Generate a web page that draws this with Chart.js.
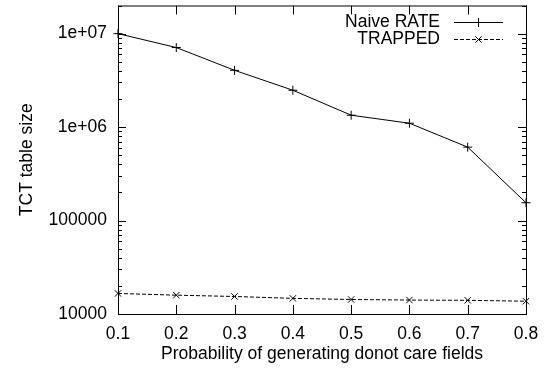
<!DOCTYPE html>
<html>
<head>
<meta charset="utf-8">
<script src="https://cdn.jsdelivr.net/npm/chart.js@4/dist/chart.umd.min.js"></script>
<style>
  html, body { margin: 0; padding: 0; background: #fff; }
  #wrap { width: 544px; height: 372px; }
</style>
</head>
<body>
<div id="wrap"><canvas id="myChart" width="544" height="372"></canvas></div>
<script>
const probabilities = ['0.1', '0.2', '0.3', '0.4', '0.5', '0.6', '0.7', '0.8'];
const naiveRate = [10000000, 7100000, 4050000, 2480000, 1340000, 1100000, 610000, 155000];
const trapped = [16600, 15900, 15400, 14700, 14300, 14100, 14000, 13700];
const yTickValues = [10000, 100000, 1000000, 10000000];
const yTickLabels = ['10000', '100000', '1e+06', '1e+07'];

const fontFamily = 'Liberation Sans, Arial, sans-serif';
const fontSize = 17.5;

// gnuplot style frame: box, inward ticks on all four sides, key at top right
const framePlugin = {
    id: 'frame',
    afterDraw(chart) {
        const ctx = chart.ctx;
        const area = chart.chartArea;
        const x = chart.scales.x;
        const y = chart.scales.y;
        ctx.save();
        ctx.strokeStyle = '#000';
        ctx.lineWidth = 1;
        ctx.strokeRect(area.left + 0.5, area.top + 0.5, area.right - area.left, area.bottom - area.top);

        ctx.beginPath();
        probabilities.forEach((p, i) => {
            const px = Math.round(x.getPixelForValue(i)) + 0.5;
            ctx.moveTo(px, area.bottom);
            ctx.lineTo(px, area.bottom - 9);
            ctx.moveTo(px, area.top);
            ctx.lineTo(px, area.top + 9);
        });
        for (let dec = 10000; dec <= y.max; dec *= 10) {
            for (let m = 1; m <= 9; m++) {
                const v = dec * m;
                if (v < y.min || v > y.max) continue;
                const len = m === 1 ? 8 : 4;
                const py = Math.round(y.getPixelForValue(v)) + 0.5;
                ctx.moveTo(area.left, py);
                ctx.lineTo(area.left + len, py);
                ctx.moveTo(area.right, py);
                ctx.lineTo(area.right - len, py);
            }
        }
        ctx.stroke();

        // key
        ctx.font = fontSize + 'px ' + fontFamily;
        ctx.textAlign = 'right';
        ctx.textBaseline = 'middle';
        ctx.fillStyle = '#000';
        chart.data.datasets.forEach((ds, i) => {
            const rowY = 22 + i * 17;
            ctx.fillText(ds.label, 440, rowY);
            ctx.beginPath();
            ctx.setLineDash(ds.borderDash || []);
            ctx.moveTo(454, rowY + 0.5);
            ctx.lineTo(503, rowY + 0.5);
            ctx.stroke();
            ctx.setLineDash([]);
            Chart.helpers.drawPoint(ctx, {
                pointStyle: ds.pointStyle,
                radius: ds.pointRadius,
                rotation: 0,
                borderWidth: 1
            }, 478.5, rowY + 0.5);
        });
        ctx.restore();
    }
};

const ctx = document.getElementById('myChart').getContext('2d');
const myChart = new Chart(ctx, {
    type: 'line',
    data: {
        labels: probabilities,
        datasets: [{
            label: 'Naive RATE',
            data: naiveRate,
            borderColor: '#000',
            backgroundColor: '#000',
            borderWidth: 1,
            pointStyle: 'cross',
            pointRadius: 4.5,
            pointBorderWidth: 1,
            tension: 0,
            fill: false
        }, {
            label: 'TRAPPED',
            data: trapped,
            borderColor: '#000',
            backgroundColor: '#000',
            borderWidth: 1,
            borderDash: [4, 2],
            pointStyle: 'crossRot',
            pointRadius: 4.5,
            pointBorderWidth: 1,
            tension: 0,
            fill: false
        }]
    },
    options: {
        responsive: false,
        animation: false,
        layout: { padding: { top: 5, right: 18, left: 0, bottom: 0 } },
        plugins: {
            legend: { display: false },
            tooltip: { enabled: false }
        },
        scales: {
            x: {
                type: 'category',
                offset: false,
                grid: { display: false, drawTicks: false },
                border: { display: false },
                ticks: {
                    color: '#000',
                    font: { family: fontFamily, size: fontSize },
                    padding: 10,
                    maxRotation: 0,
                    autoSkip: false
                },
                title: {
                    display: true,
                    text: 'Probability of generating donot care fields',
                    color: '#000',
                    font: { family: fontFamily, size: fontSize },
                    padding: { top: 0, bottom: 7 }
                },
                afterFit(scale) {
                    scale.height = 58;
                    scale.paddingLeft = 0;
                    scale.paddingRight = 0;
                }
            },
            y: {
                type: 'logarithmic',
                min: 10000,
                max: 20000000,
                grid: { display: false, drawTicks: false },
                border: { display: false },
                afterBuildTicks(scale) {
                    scale.ticks = yTickValues.map(v => ({ value: v }));
                },
                ticks: {
                    color: '#000',
                    font: { family: fontFamily, size: fontSize },
                    padding: 11,
                    autoSkip: false,
                    callback: (value) => {
                        const i = yTickValues.indexOf(value);
                        return i >= 0 ? yTickLabels[i] : '';
                    }
                },
                title: {
                    display: true,
                    text: 'TCT table size',
                    color: '#000',
                    font: { family: fontFamily, size: fontSize },
                    padding: { top: 17, bottom: 0 }
                },
                afterFit(scale) {
                    scale.width = 118;
                    scale.paddingTop = 0;
                    scale.paddingBottom = 0;
                }
            }
        }
    },
    plugins: [framePlugin]
});
</script>
</body>
</html>
